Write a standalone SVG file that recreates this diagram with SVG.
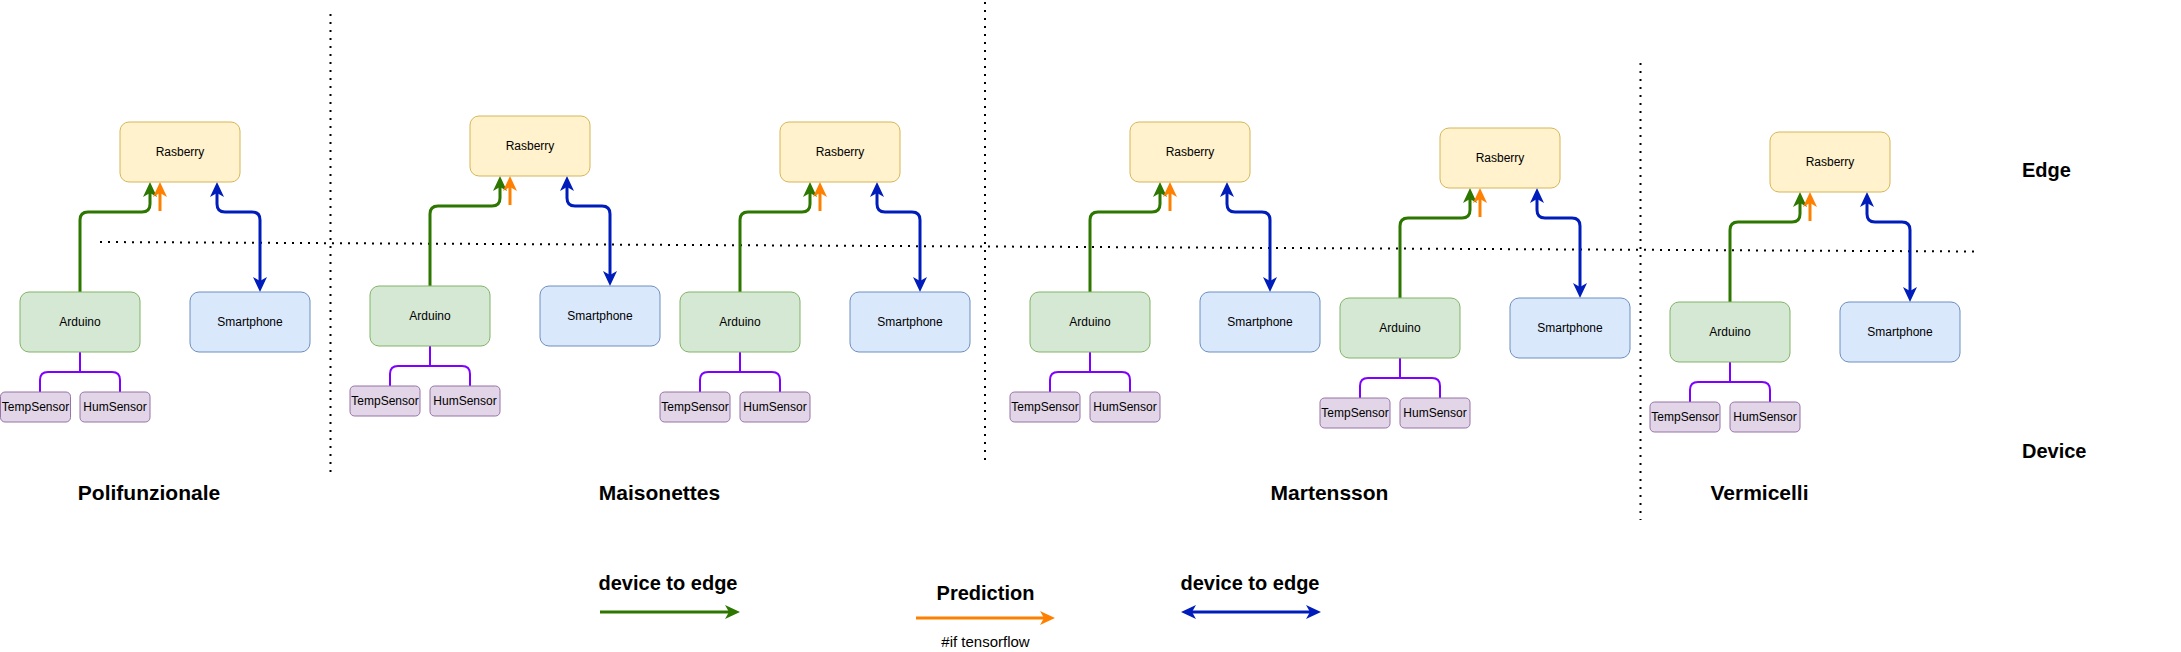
<svg xmlns="http://www.w3.org/2000/svg" width="2181" height="652" viewBox="0 0 2181 652">
<style>
text{font-family:"Liberation Sans",Arial,Helvetica,sans-serif;fill:#000}
.lbl{font-size:12px;text-anchor:middle}
.big{font-size:21px;font-weight:bold;text-anchor:middle}
.side{font-size:20px;font-weight:bold}
.leg{font-size:20px;font-weight:bold;text-anchor:middle}
.small{font-size:15px;text-anchor:middle}
.rb{fill:#fff2cc;stroke:#d6b656;stroke-width:1}
.ar{fill:#d5e8d4;stroke:#82b366;stroke-width:1}
.sp{fill:#dae8fc;stroke:#6c8ebf;stroke-width:1}
.se{fill:#e1d5e7;stroke:#9673a6;stroke-width:1}
.green{fill:none;stroke:#2D7600;stroke-width:3;marker-end:url(#ah-green)}
.orange{fill:none;stroke:#FF8000;stroke-width:3;marker-end:url(#ah-orange)}
.blue{fill:none;stroke:#001DBC;stroke-width:3;marker-start:url(#ah-blue);marker-end:url(#ah-blue)}
.purple{fill:none;stroke:#7F00FF;stroke-width:2}
.dot{fill:none;stroke:#000;stroke-width:2;stroke-dasharray:2 6}
</style>
<defs>
<marker id="ah-green" viewBox="0 0 15 14" refX="4" refY="7" markerWidth="15" markerHeight="14" markerUnits="userSpaceOnUse" orient="auto-start-reverse"><path d="M0,0 L15,7 L0,14 L4,7 Z" fill="#2D7600"/></marker>
<marker id="ah-orange" viewBox="0 0 15 14" refX="4" refY="7" markerWidth="15" markerHeight="14" markerUnits="userSpaceOnUse" orient="auto-start-reverse"><path d="M0,0 L15,7 L0,14 L4,7 Z" fill="#FF8000"/></marker>
<marker id="ah-blue" viewBox="0 0 15 14" refX="4" refY="7" markerWidth="15" markerHeight="14" markerUnits="userSpaceOnUse" orient="auto-start-reverse"><path d="M0,0 L15,7 L0,14 L4,7 Z" fill="#001DBC"/></marker>
</defs>
<rect width="2181" height="652" fill="#ffffff"/>

<g id="separators">
<line class="dot" x1="330.5" y1="14" x2="330.5" y2="472"/>
<line class="dot" x1="985" y1="2" x2="985" y2="462"/>
<line class="dot" x1="1640.5" y1="63" x2="1640.5" y2="520"/>
<line class="dot" x1="100" y1="242" x2="1975" y2="251.5"/>
</g>

<g id="connectors">
<g transform="translate(20,292)">
<path class="green" d="M60,0 V-72 Q60,-80 68,-80 H122 Q130,-80 130,-88 V-99"/>
<path class="orange" d="M140,-81 V-99"/>
<path class="blue" d="M197,-99 V-88 Q197,-80 205,-80 H232 Q240,-80 240,-72 V-11"/>
<path class="purple" d="M60,60 V80 H28 Q20,80 20,88 V100 M60,80 H92 Q100,80 100,88 V100"/>
</g>
<g transform="translate(370,286)">
<path class="green" d="M60,0 V-72 Q60,-80 68,-80 H122 Q130,-80 130,-88 V-99"/>
<path class="orange" d="M140,-81 V-99"/>
<path class="blue" d="M197,-99 V-88 Q197,-80 205,-80 H232 Q240,-80 240,-72 V-11"/>
<path class="purple" d="M60,60 V80 H28 Q20,80 20,88 V100 M60,80 H92 Q100,80 100,88 V100"/>
</g>
<g transform="translate(680,292)">
<path class="green" d="M60,0 V-72 Q60,-80 68,-80 H122 Q130,-80 130,-88 V-99"/>
<path class="orange" d="M140,-81 V-99"/>
<path class="blue" d="M197,-99 V-88 Q197,-80 205,-80 H232 Q240,-80 240,-72 V-11"/>
<path class="purple" d="M60,60 V80 H28 Q20,80 20,88 V100 M60,80 H92 Q100,80 100,88 V100"/>
</g>
<g transform="translate(1030,292)">
<path class="green" d="M60,0 V-72 Q60,-80 68,-80 H122 Q130,-80 130,-88 V-99"/>
<path class="orange" d="M140,-81 V-99"/>
<path class="blue" d="M197,-99 V-88 Q197,-80 205,-80 H232 Q240,-80 240,-72 V-11"/>
<path class="purple" d="M60,60 V80 H28 Q20,80 20,88 V100 M60,80 H92 Q100,80 100,88 V100"/>
</g>
<g transform="translate(1340,298)">
<path class="green" d="M60,0 V-72 Q60,-80 68,-80 H122 Q130,-80 130,-88 V-99"/>
<path class="orange" d="M140,-81 V-99"/>
<path class="blue" d="M197,-99 V-88 Q197,-80 205,-80 H232 Q240,-80 240,-72 V-11"/>
<path class="purple" d="M60,60 V80 H28 Q20,80 20,88 V100 M60,80 H92 Q100,80 100,88 V100"/>
</g>
<g transform="translate(1670,302)">
<path class="green" d="M60,0 V-72 Q60,-80 68,-80 H122 Q130,-80 130,-88 V-99"/>
<path class="orange" d="M140,-81 V-99"/>
<path class="blue" d="M197,-99 V-88 Q197,-80 205,-80 H232 Q240,-80 240,-72 V-11"/>
<path class="purple" d="M60,60 V80 H28 Q20,80 20,88 V100 M60,80 H92 Q100,80 100,88 V100"/>
</g>
<g id="legend-arrows">
<path class="green" d="M600,612 H729"/>
<path class="orange" d="M916,618 H1044"/>
<path class="blue" d="M1192,612 H1310"/>
</g>
</g>

<g id="section1" transform="translate(20,292)">
<g id="s1-rasberry"><rect class="rb" x="100" y="-170" width="120" height="60" rx="9"/><text class="lbl" x="160" y="-136">Rasberry</text></g>
<g id="s1-arduino"><rect class="ar" x="0" y="0" width="120" height="60" rx="9"/><text class="lbl" x="60" y="34">Arduino</text></g>
<g id="s1-smartphone"><rect class="sp" x="170" y="0" width="120" height="60" rx="9"/><text class="lbl" x="230" y="34">Smartphone</text></g>
<g id="s1-tempsensor"><rect class="se" x="-19.5" y="100" width="70" height="30" rx="4.5"/><text class="lbl" x="15.5" y="119">TempSensor</text></g>
<g id="s1-humsensor"><rect class="se" x="60" y="100" width="70" height="30" rx="4.5"/><text class="lbl" x="95" y="119">HumSensor</text></g>
</g>
<g id="section2" transform="translate(370,286)">
<g id="s2-rasberry"><rect class="rb" x="100" y="-170" width="120" height="60" rx="9"/><text class="lbl" x="160" y="-136">Rasberry</text></g>
<g id="s2-arduino"><rect class="ar" x="0" y="0" width="120" height="60" rx="9"/><text class="lbl" x="60" y="34">Arduino</text></g>
<g id="s2-smartphone"><rect class="sp" x="170" y="0" width="120" height="60" rx="9"/><text class="lbl" x="230" y="34">Smartphone</text></g>
<g id="s2-tempsensor"><rect class="se" x="-20" y="100" width="70" height="30" rx="4.5"/><text class="lbl" x="15" y="119">TempSensor</text></g>
<g id="s2-humsensor"><rect class="se" x="60" y="100" width="70" height="30" rx="4.5"/><text class="lbl" x="95" y="119">HumSensor</text></g>
</g>
<g id="section3" transform="translate(680,292)">
<g id="s3-rasberry"><rect class="rb" x="100" y="-170" width="120" height="60" rx="9"/><text class="lbl" x="160" y="-136">Rasberry</text></g>
<g id="s3-arduino"><rect class="ar" x="0" y="0" width="120" height="60" rx="9"/><text class="lbl" x="60" y="34">Arduino</text></g>
<g id="s3-smartphone"><rect class="sp" x="170" y="0" width="120" height="60" rx="9"/><text class="lbl" x="230" y="34">Smartphone</text></g>
<g id="s3-tempsensor"><rect class="se" x="-20" y="100" width="70" height="30" rx="4.5"/><text class="lbl" x="15" y="119">TempSensor</text></g>
<g id="s3-humsensor"><rect class="se" x="60" y="100" width="70" height="30" rx="4.5"/><text class="lbl" x="95" y="119">HumSensor</text></g>
</g>
<g id="section4" transform="translate(1030,292)">
<g id="s4-rasberry"><rect class="rb" x="100" y="-170" width="120" height="60" rx="9"/><text class="lbl" x="160" y="-136">Rasberry</text></g>
<g id="s4-arduino"><rect class="ar" x="0" y="0" width="120" height="60" rx="9"/><text class="lbl" x="60" y="34">Arduino</text></g>
<g id="s4-smartphone"><rect class="sp" x="170" y="0" width="120" height="60" rx="9"/><text class="lbl" x="230" y="34">Smartphone</text></g>
<g id="s4-tempsensor"><rect class="se" x="-20" y="100" width="70" height="30" rx="4.5"/><text class="lbl" x="15" y="119">TempSensor</text></g>
<g id="s4-humsensor"><rect class="se" x="60" y="100" width="70" height="30" rx="4.5"/><text class="lbl" x="95" y="119">HumSensor</text></g>
</g>
<g id="section5" transform="translate(1340,298)">
<g id="s5-rasberry"><rect class="rb" x="100" y="-170" width="120" height="60" rx="9"/><text class="lbl" x="160" y="-136">Rasberry</text></g>
<g id="s5-arduino"><rect class="ar" x="0" y="0" width="120" height="60" rx="9"/><text class="lbl" x="60" y="34">Arduino</text></g>
<g id="s5-smartphone"><rect class="sp" x="170" y="0" width="120" height="60" rx="9"/><text class="lbl" x="230" y="34">Smartphone</text></g>
<g id="s5-tempsensor"><rect class="se" x="-20" y="100" width="70" height="30" rx="4.5"/><text class="lbl" x="15" y="119">TempSensor</text></g>
<g id="s5-humsensor"><rect class="se" x="60" y="100" width="70" height="30" rx="4.5"/><text class="lbl" x="95" y="119">HumSensor</text></g>
</g>
<g id="section6" transform="translate(1670,302)">
<g id="s6-rasberry"><rect class="rb" x="100" y="-170" width="120" height="60" rx="9"/><text class="lbl" x="160" y="-136">Rasberry</text></g>
<g id="s6-arduino"><rect class="ar" x="0" y="0" width="120" height="60" rx="9"/><text class="lbl" x="60" y="34">Arduino</text></g>
<g id="s6-smartphone"><rect class="sp" x="170" y="0" width="120" height="60" rx="9"/><text class="lbl" x="230" y="34">Smartphone</text></g>
<g id="s6-tempsensor"><rect class="se" x="-20" y="100" width="70" height="30" rx="4.5"/><text class="lbl" x="15" y="119">TempSensor</text></g>
<g id="s6-humsensor"><rect class="se" x="60" y="100" width="70" height="30" rx="4.5"/><text class="lbl" x="95" y="119">HumSensor</text></g>
</g>

<g id="labels">
<text class="big" x="149" y="500">Polifunzionale</text>
<text class="big" x="659.5" y="500">Maisonettes</text>
<text class="big" x="1329.5" y="500">Martensson</text>
<text class="big" x="1759.5" y="500">Vermicelli</text>
<text class="side" x="2022" y="177">Edge</text>
<text class="side" x="2022" y="458">Device</text>
</g>

<g id="legend">
<text class="leg" x="668" y="590">device to edge</text>
<text class="leg" x="985.5" y="600">Prediction</text>
<text class="small" x="985.5" y="647">#if tensorflow</text>
<text class="leg" x="1250" y="590">device to edge</text>
</g>
</svg>
